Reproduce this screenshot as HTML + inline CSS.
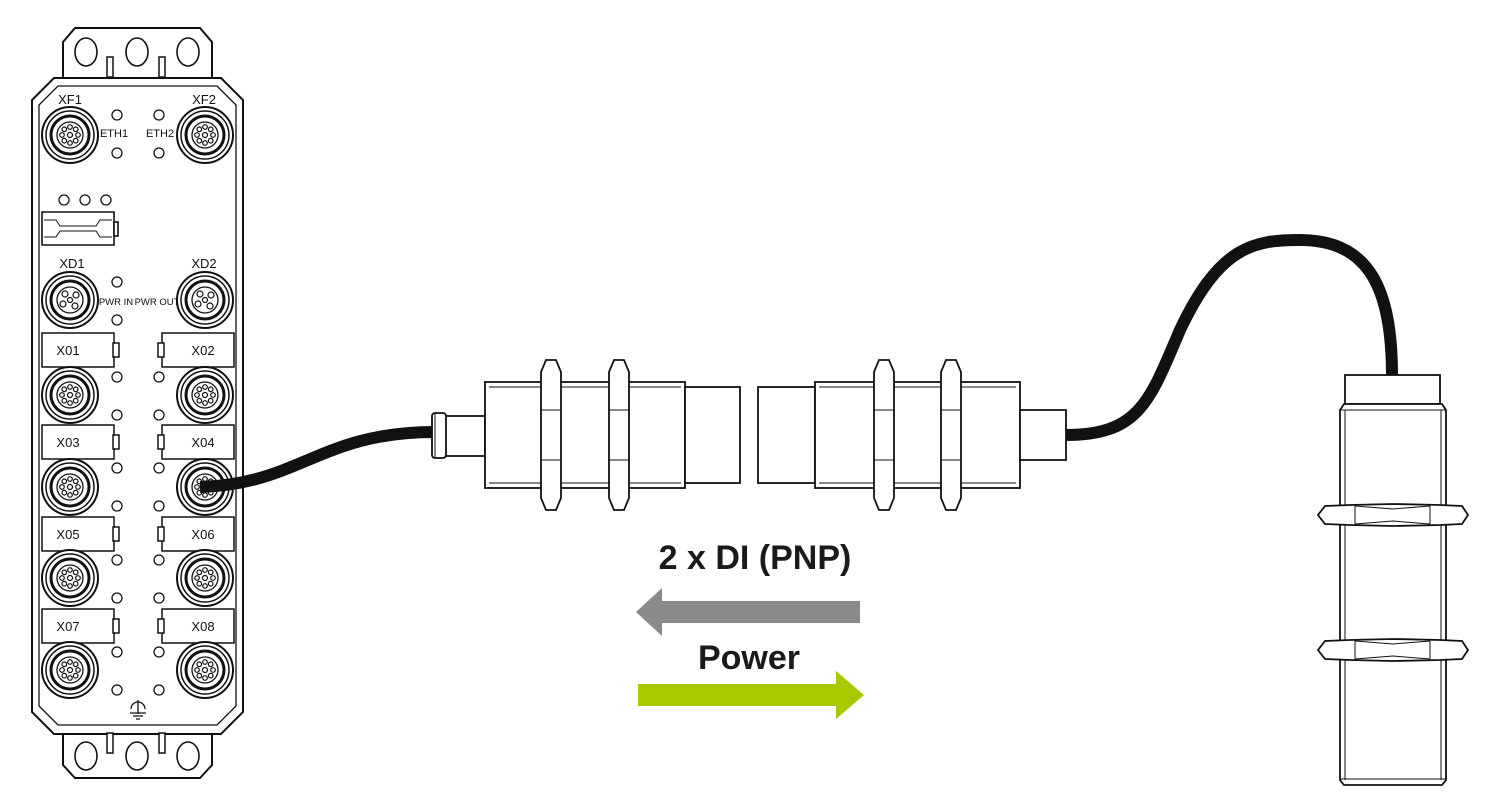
<!DOCTYPE html>
<html><head><meta charset="utf-8"><style>
html,body{margin:0;padding:0;background:#fff}
svg{display:block}
text{font-family:"Liberation Sans",Arial,sans-serif}
</style></head><body>
<svg width="1500" height="808" viewBox="0 0 1500 808" xmlns="http://www.w3.org/2000/svg">
<defs>
<g id="m12">
  <circle r="28" fill="#fff" stroke="#111" stroke-width="2"/>
  <circle r="24" fill="none" stroke="#111" stroke-width="1.5"/>
  <circle r="19" fill="none" stroke="#111" stroke-width="3"/>
  <circle r="13" fill="none" stroke="#111" stroke-width="1.3"/>
  <circle r="2.5" fill="none" stroke="#111" stroke-width="1.2"/>
  <g fill="none" stroke="#111" stroke-width="1.2">
    <circle cx="0" cy="-8" r="2.3"/><circle cx="0" cy="8" r="2.3"/>
    <circle cx="-8" cy="0" r="2.3"/><circle cx="8" cy="0" r="2.3"/>
    <circle cx="-5.7" cy="-5.7" r="2.3"/><circle cx="5.7" cy="5.7" r="2.3"/>
    <circle cx="5.7" cy="-5.7" r="2.3"/><circle cx="-5.7" cy="5.7" r="2.3"/>
  </g>
</g>
<g id="m12b">
  <circle r="28" fill="#fff" stroke="#111" stroke-width="2"/>
  <circle r="24" fill="none" stroke="#111" stroke-width="1.5"/>
  <circle r="19" fill="none" stroke="#111" stroke-width="3"/>
  <circle r="13" fill="none" stroke="#111" stroke-width="1.3"/>
  <g fill="#fff" stroke="#111" stroke-width="1.2">
    <circle cx="-5" cy="-6" r="3"/><circle cx="6" cy="-5" r="3"/><circle cx="-7" cy="4" r="3"/><circle cx="5" cy="6" r="3"/><circle cx="0" cy="0" r="2.5"/>
  </g>
</g>
<g id="led"><circle r="5" fill="#fff" stroke="#111" stroke-width="1.3"/></g>
<g id="nutv" fill="#fff" stroke="#111" stroke-width="1.6">
  <path d="M-6,-22 L6,-22 L10,-12 L10,12 L6,22 L-6,22 L-10,12 L-10,-12 Z" transform="translate(0,0)"/>
</g>
</defs>

<!-- DEVICE -->
<g stroke="#111" fill="#fff" stroke-width="2">
  <path d="M63,42 L75,28 L200,28 L212,42 L212,82 L63,82 Z"/>
  <path d="M63,730 L212,730 L212,765 L200,778 L75,778 L63,765 Z"/>
  <path d="M54,78 L221,78 L243,100 L243,712 L221,734 L54,734 L32,712 L32,100 Z"/>
  <path d="M58,86 L217,86 L236,105 L236,706 L217,725 L58,725 L39,706 L39,105 Z" fill="none" stroke-width="1.3"/>
  <ellipse cx="86" cy="52" rx="11" ry="14" stroke-width="1.6"/>
  <ellipse cx="137" cy="52" rx="11" ry="14" stroke-width="1.6"/>
  <ellipse cx="188" cy="52" rx="11" ry="14" stroke-width="1.6"/>
  <ellipse cx="86" cy="756" rx="11" ry="14" stroke-width="1.6"/>
  <ellipse cx="137" cy="756" rx="11" ry="14" stroke-width="1.6"/>
  <ellipse cx="188" cy="756" rx="11" ry="14" stroke-width="1.6"/>
  <rect x="107" y="57" width="6" height="20" stroke-width="1.5"/>
  <rect x="159" y="57" width="6" height="20" stroke-width="1.5"/>
  <rect x="107" y="733" width="6" height="20" stroke-width="1.5"/>
  <rect x="159" y="733" width="6" height="20" stroke-width="1.5"/>
</g>

<g font-size="12" fill="#111">
  <text x="70" y="104" text-anchor="middle" font-size="13">XF1</text>
  <text x="204" y="104" text-anchor="middle" font-size="13">XF2</text>
  <text x="114" y="137" text-anchor="middle" font-size="11">ETH1</text>
  <text x="160" y="137" text-anchor="middle" font-size="11">ETH2</text>
  <text x="72" y="268" text-anchor="middle" font-size="13">XD1</text>
  <text x="204" y="268" text-anchor="middle" font-size="13">XD2</text>
  <text x="116" y="305" text-anchor="middle" font-size="9.5">PWR IN</text>
  <text x="157" y="305" text-anchor="middle" font-size="9.5">PWR OUT</text>
</g>
<use href="#m12" x="70" y="135"/><use href="#m12" x="205" y="135"/>
<use href="#m12b" x="70" y="300"/><use href="#m12b" x="205" y="300"/>
<use href="#led" x="117" y="115"/><use href="#led" x="117" y="153"/>
<use href="#led" x="159" y="115"/><use href="#led" x="159" y="153"/>
<use href="#led" x="64" y="200"/><use href="#led" x="85" y="200"/><use href="#led" x="106" y="200"/>
<use href="#led" x="117" y="282"/><use href="#led" x="117" y="320"/>
<g stroke="#111" fill="#fff" stroke-width="1.6">
  <path d="M42,212 L114,212 L114,245 L42,245 Z"/>
  <path d="M44,220 L56,220 L60,226 L96,226 L100,220 L112,220 M44,237 L56,237 L60,231 L96,231 L100,237 L112,237" fill="none" stroke-width="1"/>
  <rect x="114" y="222" width="4" height="14"/>
</g>

<!-- X rows -->
<g stroke="#111" fill="#fff" stroke-width="1.5">
  <rect x="42" y="333" width="72" height="34"/><rect x="162" y="333" width="72" height="34"/>
  <rect x="113" y="343" width="6" height="14"/><rect x="158" y="343" width="6" height="14"/>
  <rect x="42" y="425" width="72" height="34"/><rect x="162" y="425" width="72" height="34"/>
  <rect x="113" y="435" width="6" height="14"/><rect x="158" y="435" width="6" height="14"/>
  <rect x="42" y="517" width="72" height="34"/><rect x="162" y="517" width="72" height="34"/>
  <rect x="113" y="527" width="6" height="14"/><rect x="158" y="527" width="6" height="14"/>
  <rect x="42" y="609" width="72" height="34"/><rect x="162" y="609" width="72" height="34"/>
  <rect x="113" y="619" width="6" height="14"/><rect x="158" y="619" width="6" height="14"/>
</g>
<g font-size="13" fill="#111">
  <text x="68" y="355" text-anchor="middle">X01</text><text x="203" y="355" text-anchor="middle">X02</text>
  <text x="68" y="447" text-anchor="middle">X03</text><text x="203" y="447" text-anchor="middle">X04</text>
  <text x="68" y="539" text-anchor="middle">X05</text><text x="203" y="539" text-anchor="middle">X06</text>
  <text x="68" y="631" text-anchor="middle">X07</text><text x="203" y="631" text-anchor="middle">X08</text>
</g>
<use href="#m12" x="70" y="395"/><use href="#m12" x="205" y="395"/>
<use href="#m12" x="70" y="487"/><use href="#m12" x="205" y="487"/>
<use href="#m12" x="70" y="578"/><use href="#m12" x="205" y="578"/>
<use href="#m12" x="70" y="670"/><use href="#m12" x="205" y="670"/>
<use href="#led" x="117" y="377"/><use href="#led" x="159" y="377"/>
<use href="#led" x="117" y="415"/><use href="#led" x="159" y="415"/>
<use href="#led" x="117" y="468"/><use href="#led" x="159" y="468"/>
<use href="#led" x="117" y="506"/><use href="#led" x="159" y="506"/>
<use href="#led" x="117" y="560"/><use href="#led" x="159" y="560"/>
<use href="#led" x="117" y="598"/><use href="#led" x="159" y="598"/>
<use href="#led" x="117" y="652"/><use href="#led" x="159" y="652"/>
<use href="#led" x="117" y="690"/><use href="#led" x="159" y="690"/>
<g stroke="#111" stroke-width="1.3" fill="none">
  <path d="M138,700 L138,714 M131,709 A7,7 0 0 1 145,709 M130,713 L146,713 M133,716 L143,716 M136,719 L140,719"/>
</g>

<!-- cable left -->
<path d="M200,487 C300,484 320,432 435,432" stroke="#111" stroke-width="12" fill="none"/>

<!-- left sensor -->
<g stroke="#111" fill="#fff" stroke-width="1.8">
  <rect x="445" y="416" width="40" height="40"/>
  <rect x="432" y="413" width="14" height="45" rx="3"/>
  <line x1="435" y1="413" x2="435" y2="458" stroke-width="1"/>
  <rect x="485" y="382" width="200" height="106"/>
  <line x1="489" y1="387" x2="681" y2="387" stroke-width="1"/>
  <line x1="489" y1="483" x2="681" y2="483" stroke-width="1"/>
  <rect x="685" y="387" width="55" height="96"/>
  <path d="M541,372 L546,360 L556,360 L561,372 L561,498 L556,510 L546,510 L541,498 Z"/>
  <path d="M541,410 L561,410 M541,460 L561,460" stroke-width="1"/>
  <path d="M609,372 L614,360 L624,360 L629,372 L629,498 L624,510 L614,510 L609,498 Z"/>
  <path d="M609,410 L629,410 M609,460 L629,460" stroke-width="1"/>
</g>

<!-- right sensor -->
<g stroke="#111" fill="#fff" stroke-width="1.8">
  <rect x="758" y="387" width="57" height="96"/>
  <rect x="815" y="382" width="205" height="106"/>
  <line x1="819" y1="387" x2="1016" y2="387" stroke-width="1"/>
  <line x1="819" y1="483" x2="1016" y2="483" stroke-width="1"/>
  <rect x="1020" y="410" width="46" height="50"/>
  <path d="M874,372 L879,360 L889,360 L894,372 L894,498 L889,510 L879,510 L874,498 Z"/>
  <path d="M874,410 L894,410 M874,460 L894,460" stroke-width="1"/>
  <path d="M941,372 L946,360 L956,360 L961,372 L961,498 L956,510 L946,510 L941,498 Z"/>
  <path d="M941,410 L961,410 M941,460 L961,460" stroke-width="1"/>
</g>
<path d="M1066,435 C1140,435 1150,400 1180,330 C1220,245 1255,240 1300,240 C1370,240 1392,290 1392,376" stroke="#111" stroke-width="12" fill="none"/>

<!-- vertical sensor -->
<g stroke="#111" fill="#fff" stroke-width="1.8">
  <rect x="1345" y="375" width="95" height="29"/>
  <path d="M1344,404 L1442,404 L1446,410 L1446,780 L1442,785 L1344,785 L1340,780 L1340,410 Z"/>
  <line x1="1345" y1="410" x2="1345" y2="780" stroke-width="1"/>
  <line x1="1441" y1="410" x2="1441" y2="780" stroke-width="1"/>
  <line x1="1340" y1="410" x2="1446" y2="410" stroke-width="1"/>
  <line x1="1340" y1="779" x2="1446" y2="779" stroke-width="1"/>
  <path d="M1325,506 L1350,505 L1393,504 L1440,505 L1462,506 L1468,515 L1462,524 L1440,525 L1393,526 L1350,525 L1325,524 L1318,515 Z"/>
  <path d="M1355,506 L1355,524 M1430,506 L1430,524 M1355,506 L1393,509 L1430,506 M1355,524 L1393,521 L1430,524" fill="none" stroke-width="1"/>
  <path d="M1325,641 L1350,640 L1393,639 L1440,640 L1462,641 L1468,650 L1462,659 L1440,660 L1393,661 L1350,660 L1325,659 L1318,650 Z"/>
  <path d="M1355,641 L1355,659 M1430,641 L1430,659 M1355,641 L1393,644 L1430,641 M1355,659 L1393,656 L1430,659" fill="none" stroke-width="1"/>
</g>

<!-- labels & arrows -->
<text x="755" y="569" text-anchor="middle" font-size="34" font-weight="bold" fill="#1a1a1a">2 x DI (PNP)</text>
<path d="M636,612 L662,588 L662,601 L860,601 L860,623 L662,623 L662,636 Z" fill="#8a8a8a"/>
<text x="749" y="669" text-anchor="middle" font-size="34" font-weight="bold" fill="#1a1a1a">Power</text>
<path d="M638,684 L836,684 L836,671 L864,695 L836,719 L836,706 L638,706 Z" fill="#a8c800"/>
</svg>
</body></html>
